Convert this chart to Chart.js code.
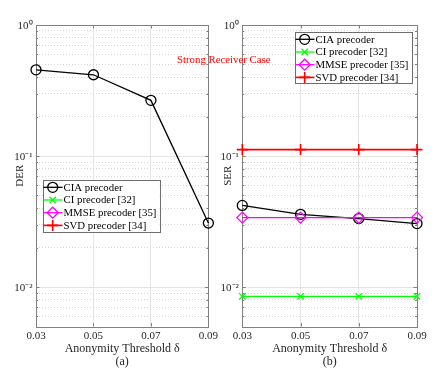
<!DOCTYPE html>
<html lang="en">
<head>
<meta charset="UTF-8">
<title>DER / SER vs anonymity threshold</title>
<script src="https://cdn.jsdelivr.net/npm/chart.js"></script>
<style>
  body { margin: 0; background: #fff; }
  #wrap { position: relative; width: 443px; height: 383px; background: #fff; }
  canvas { position: absolute; top: 0; }
  #note { position: absolute; left: 177px; top: 54px; font: 10.8px/11px 'Liberation Serif', 'Times New Roman', serif; color: #ff0000; white-space: nowrap; }
</style>
</head>
<body>
<div id="wrap">
  <canvas id="derChart" width="221" height="383" style="left:0"></canvas>
  <canvas id="serChart" width="222" height="383" style="left:221px"></canvas>
  <div id="note">Strong Receiver Case</div>
</div>

<script>
// data
const delta = [0.03, 0.05, 0.07, 0.09];
const xTickLabels = ['0.03', '0.05', '0.07', '0.09'];
const yTickVals = [0.01, 0.1, 1];
const yTickLabels = ['10⁻²', '10⁻¹', '10⁰'];
const seriesNames = ['CIA precoder', 'CI precoder [32]', 'MMSE precoder [35]', 'SVD precoder [34]'];

const derCIA = [0.455, 0.417, 0.266, 0.0308];

const serCIA = [0.042, 0.0359, 0.0333, 0.0305];
const serCI = [0.0085, 0.0085, 0.0085, 0.0085];
const serMMSE = [0.0339, 0.0339, 0.0339, 0.0339];
const serSVD = [0.112, 0.112, 0.112, 0.112];

const yMin = 0.005, yMax = 1;

Chart.defaults.font.family = "'Liberation Serif', 'Times New Roman', serif";
Chart.defaults.color = '#262626';

// minor log grid values (2..9 x 10^k inside the range)
const minorVals = [];
for (let e = -3; e <= 0; e++) {
  for (let m = 2; m <= 9; m++) {
    const v = m * Math.pow(10, e);
    if (v > yMin && v < yMax) minorVals.push(v);
  }
}

const styles = [
  { color: '#000000', pointStyle: 'circle', radius: 5, width: 1.3, order: 4 },
  { color: '#00ff00', pointStyle: 'crossRot', radius: 4.5, width: 1.3, order: 3 },
  { color: '#ff00ff', pointStyle: 'rectRot', radius: 5.5, width: 1.3, order: 2 },
  { color: '#ff0000', pointStyle: 'cross', radius: 5.5, width: 1.6, order: 1 }
];

const toPts = vals => vals.map((v, i) => ({ x: delta[i], y: v }));

function makeSets(series) {
  return series.map((vals, i) => ({
    label: seriesNames[i],
    data: toPts(vals),
    borderColor: styles[i].color,
    backgroundColor: 'rgba(0,0,0,0)',
    borderWidth: styles[i].width,
    pointStyle: styles[i].pointStyle,
    pointRadius: styles[i].radius,
    pointBorderWidth: styles[i].width,
    pointBorderColor: styles[i].color,
    pointBackgroundColor: 'rgba(0,0,0,0)',
    order: styles[i].order,
    clip: false,
    tension: 0
  }));
}

// box round the axes with inward ticks (matlab look)
const axisBox = {
  id: 'axisBox',
  beforeDatasetsDraw(chart) {
    const { ctx, chartArea: a, scales } = chart;
    ctx.save();
    ctx.strokeStyle = '#808080';
    ctx.lineWidth = 1;
    ctx.beginPath();
    scales.x.ticks.forEach(t => {
      const px = Math.round(scales.x.getPixelForValue(t.value)) + 0.5;
      ctx.moveTo(px, a.bottom); ctx.lineTo(px, a.bottom - 3.5);
      ctx.moveTo(px, a.top); ctx.lineTo(px, a.top + 3.5);
    });
    scales.y.ticks.forEach(t => {
      const py = Math.round(scales.y.getPixelForValue(t.value)) + 0.5;
      ctx.moveTo(a.left, py); ctx.lineTo(a.left + 3.5, py);
      ctx.moveTo(a.right, py); ctx.lineTo(a.right - 3.5, py);
    });
    scales.ym.ticks.forEach(t => {
      const py = Math.round(scales.ym.getPixelForValue(t.value)) + 0.5;
      ctx.moveTo(a.left, py); ctx.lineTo(a.left + 2, py);
      ctx.moveTo(a.right, py); ctx.lineTo(a.right - 2, py);
    });
    ctx.stroke();
    ctx.strokeRect(Math.round(a.left) + 0.5, Math.round(a.top) + 0.5,
      Math.round(a.right - a.left), Math.round(a.bottom - a.top));
    ctx.restore();
  }
};

// legend drawn inside the axes
const boxLegend = {
  id: 'boxLegend',
  afterDatasetsDraw(chart, args, opts) {
    const { ctx, chartArea: a } = chart;
    const x = a.left + opts.left, y = a.top + opts.top;
    ctx.save();
    ctx.fillStyle = '#ffffff';
    ctx.fillRect(x, y, opts.width, opts.height);
    ctx.strokeStyle = '#6e6e6e';
    ctx.lineWidth = 1;
    ctx.strokeRect(Math.round(x) + 0.5, Math.round(y) + 0.5, Math.round(opts.width), Math.round(opts.height));
    ctx.font = "10.8px 'Liberation Serif', 'Times New Roman', serif";
    ctx.textBaseline = 'middle';
    chart.data.datasets.forEach((ds, i) => {
      const cy = y + 7.3 + i * 12.7;
      ctx.strokeStyle = ds.borderColor;
      ctx.lineWidth = ds.borderWidth;
      ctx.beginPath();
      ctx.moveTo(x + 0.5, cy); ctx.lineTo(x + 19.5, cy);
      ctx.stroke();
      ctx.fillStyle = 'rgba(0,0,0,0)';
      Chart.helpers.drawPoint(ctx, { pointStyle: ds.pointStyle, radius: ds.pointRadius, borderWidth: ds.pointBorderWidth, rotation: 0 }, x + 9.7, cy);
      ctx.fillStyle = '#000000';
      ctx.fillText(ds.label, x + 20.5, cy + 0.5);
    });
    ctx.restore();
  }
};

function makeChart(id, series, cfg) {
  return new Chart(document.getElementById(id), {
    type: 'line',
    data: { datasets: makeSets(series) },
    plugins: [axisBox, boxLegend],
    options: {
      responsive: false,
      animation: false,
      devicePixelRatio: 1,
      layout: { padding: { left: 0, right: cfg.padRight, top: 25, bottom: 0 } },
      plugins: {
        legend: { display: false },
        tooltip: { enabled: false },
        boxLegend: cfg.legend
      },
      scales: {
        x: {
          type: 'linear',
          min: delta[0],
          max: delta[delta.length - 1],
          afterBuildTicks: s => { s.ticks = delta.map(v => ({ value: v })); },
          afterFit: s => { s.height = 56.5; },
          ticks: {
            padding: 3,
            font: { size: 11 },
            maxRotation: 0,
            autoSkip: false,
            callback: (v, i) => xTickLabels[i]
          },
          grid: { color: '#e6e6e6', drawTicks: false },
          border: { display: false },
          title: {
            display: true,
            text: ['Anonymity Threshold δ', cfg.tag],
            font: { size: 12, lineHeight: 1.125 },
            color: '#262626',
            padding: { top: 0, bottom: 14 }
          }
        },
        y: {
          type: 'logarithmic',
          position: 'left',
          min: yMin,
          max: yMax,
          afterBuildTicks: s => { s.ticks = yTickVals.map(v => ({ value: v, major: true })); },
          afterFit: s => { s.width = cfg.yWidth; },
          ticks: {
            padding: 3.5,
            labelOffset: 1.5,
            font: { size: 11 },
            callback: (v, i) => yTickLabels[i]
          },
          grid: { color: '#e3e3e3', drawTicks: false },
          border: { display: false },
          title: {
            display: true,
            text: cfg.yTitle,
            font: { size: 11 },
            color: '#262626',
            padding: { top: cfg.yTitlePad, bottom: 0 }
          }
        },
        ym: {
          type: 'logarithmic',
          position: 'left',
          min: yMin,
          max: yMax,
          afterBuildTicks: s => { s.ticks = minorVals.map(v => ({ value: v })); },
          afterFit: s => { s.width = 0; },
          ticks: { display: false },
          grid: { color: '#d6d6d6', drawTicks: false },
          border: { display: false, dash: [1, 2] }
        }
      }
    }
  });
}

makeChart('derChart', [derCIA, [], [], []], {
  padRight: 12.3, yWidth: 36, yTitle: 'DER', yTitlePad: 14, tag: '(a)',
  legend: { left: 7, top: 155, width: 116.5, height: 52 }
});

makeChart('serChart', [serCIA, serCI, serMMSE, serSVD], {
  padRight: 26, yWidth: 21.3, yTitle: 'SER', yTitlePad: 0.5, tag: '(b)',
  legend: { left: 52.7, top: 7, width: 117, height: 51 }
});
</script>
</body>
</html>
